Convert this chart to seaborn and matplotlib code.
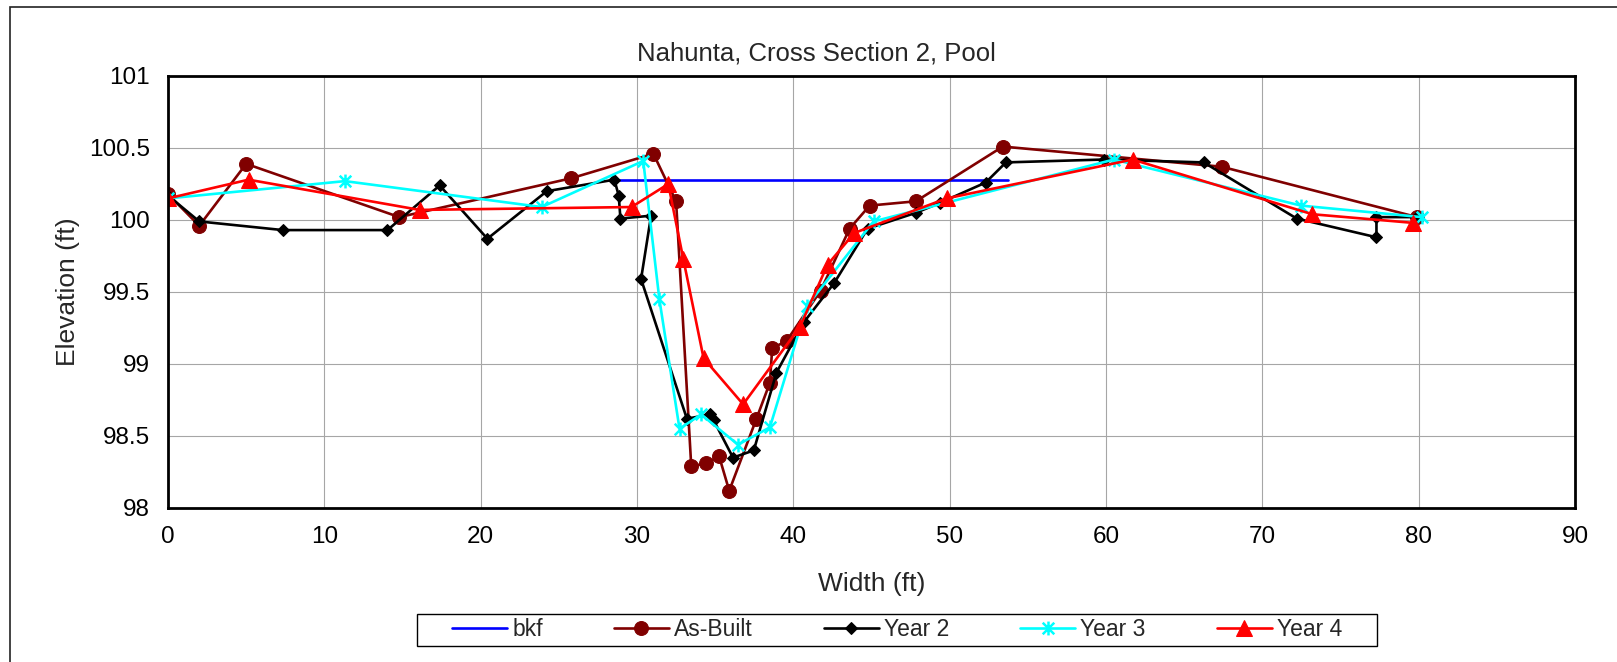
"""
Nahunta cross section 2 (pool) - elevation profile for each survey year.
"""

import matplotlib
matplotlib.use("Agg")
import matplotlib.pyplot as plt
from matplotlib.path import Path
from matplotlib.patches import Rectangle
from matplotlib.ticker import FormatStrFormatter
import seaborn as sns

# ---- data ----
bkf_x = [28.55, 53.7]
bkf_y = [100.275, 100.275]

asbuilt_x = [0.0, 2.0, 5.0, 14.8, 25.8, 31.05, 32.5, 33.47, 34.43, 35.25, 35.9,
             37.64, 38.5, 38.65, 39.57, 41.75, 43.6, 44.88, 47.84, 53.4, 67.4, 79.9]
asbuilt_y = [100.18, 99.96, 100.39, 100.02, 100.29, 100.46, 100.13, 98.29, 98.31,
             98.36, 98.12, 98.62, 98.87, 99.11, 99.16, 99.51, 99.94, 100.10, 100.13,
             100.51, 100.37, 100.02]

year2_x = [0.0, 2.0, 7.34, 14.04, 17.38, 20.43, 24.23, 28.55, 28.83, 28.94, 30.9,
           30.26, 33.19, 34.7, 34.9, 36.14, 37.47, 38.92, 40.67, 42.6, 44.75, 47.84,
           49.4, 52.3, 53.6, 59.86, 66.25, 72.2, 77.3, 77.3, 79.9]
year2_y = [100.17, 99.99, 99.93, 99.93, 100.24, 99.87, 100.20, 100.28, 100.17,
           100.01, 100.03, 99.59, 98.62, 98.65, 98.61, 98.35, 98.40, 98.94, 99.29,
           99.56, 99.94, 100.05, 100.12, 100.26, 100.40, 100.42, 100.40, 100.01,
           99.88, 100.02, 100.02]

year3_x = [0.0, 11.32, 23.9, 30.4, 31.43, 32.72, 34.1, 36.46, 38.5, 40.85, 45.13,
           60.5, 72.47, 80.2]
year3_y = [100.15, 100.27, 100.09, 100.41, 99.45, 98.55, 98.65, 98.44, 98.56, 99.40,
           99.99, 100.42, 100.10, 100.02]

year4_x = [0.0, 5.15, 16.1, 29.65, 32.0, 32.96, 34.26, 36.79, 40.43, 42.19, 43.9,
           49.8, 61.7, 73.2, 79.65]
year4_y = [100.15, 100.28, 100.07, 100.09, 100.25, 99.73, 99.04, 98.72, 99.26, 99.69,
           99.91, 100.15, 100.42, 100.04, 99.98]

x_ticks = [0, 10, 20, 30, 40, 50, 60, 70, 80, 90]
y_ticks = [98, 98.5, 99, 99.5, 100, 100.5, 101]

W, H = 1617, 662


def asterisk_marker() -> Path:
    """Excel-style asterisk: an X with a vertical bar."""
    verts = [(-1, -1), (1, 1), (-1, 1), (1, -1), (0, -1.2), (0, 1.2)]
    codes = [Path.MOVETO, Path.LINETO] * 3
    return Path(verts, codes)


def main() -> None:
    sns.set_style("white")
    plt.rcParams["font.family"] = ["Liberation Sans", "DejaVu Sans"]

    fig = plt.figure(figsize=(W / 100, H / 100), dpi=100)
    ax = fig.add_axes([168 / W, 1 - 508 / H, (1575 - 168) / W, (508 - 76) / H])

    series = [
        ("bkf", bkf_x, bkf_y, dict(color="#0000FF")),
        ("As-Built", asbuilt_x, asbuilt_y,
         dict(color="#800000", marker="o", markersize=10,
              markeredgecolor="#800000", markerfacecolor="#800000")),
        ("Year 2", year2_x, year2_y,
         dict(color="black", marker="D", markersize=6.5,
              markeredgecolor="black", markerfacecolor="black")),
        ("Year 3", year3_x, year3_y,
         dict(color="#00FFFF", marker=asterisk_marker(), markersize=10,
              markeredgecolor="#00FFFF", markeredgewidth=1.8)),
        ("Year 4", year4_x, year4_y,
         dict(color="#FF0000", marker="^", markersize=11.5,
              markeredgecolor="#FF0000", markerfacecolor="#FF0000")),
    ]
    for name, xs, ys, style in series:
        sns.lineplot(x=xs, y=ys, ax=ax, sort=False, estimator=None,
                     linewidth=1.9, label=name, **style)

    ax.set_xlim(0, 90)
    ax.set_ylim(98, 101)
    ax.set_xticks(x_ticks)
    ax.set_yticks(y_ticks)
    ax.yaxis.set_major_formatter(FormatStrFormatter("%g"))
    ax.grid(True, color="#a6a6a6", linewidth=0.8)
    ax.set_axisbelow(True)
    for sp in ax.spines.values():
        sp.set_color("black")
        sp.set_linewidth(2)
    ax.tick_params(direction="out", length=5, width=0.8, color="#808080",
                   labelsize=17.5, pad=8, labelcolor="black")

    ax.set_xlabel("Width (ft)", fontsize=19)
    ax.set_ylabel("Elevation (ft)", fontsize=19)
    ax.xaxis.set_label_coords(0.5, (508 - 572) / 432)
    ax.yaxis.set_label_coords((80 - 168) / 1407, 0.5)

    fig.text(816 / W, 1 - 54 / H, "Nahunta, Cross Section 2, Pool",
             ha="center", va="center", fontsize=18.5)

    # legend, with an Excel-like square box
    handles, labels = ax.get_legend_handles_labels()
    ax.get_legend().remove()
    fig.legend(handles, labels, loc="center", ncol=5, frameon=False,
               bbox_to_anchor=(897 / W, 1 - 630 / H),
               bbox_transform=fig.transFigure, fontsize=16.5,
               handlelength=2.4, handletextpad=0.22, columnspacing=3.1)
    fig.add_artist(Rectangle((417 / W, 1 - 646 / H), (1377 - 417) / W, 32 / H,
                             transform=fig.transFigure, fill=False,
                             edgecolor="black", linewidth=1))

    # outer chart border
    fig.add_artist(Rectangle((10 / W, -0.05), 1.1, 1 - 7 / H + 0.05,
                             transform=fig.transFigure, fill=False,
                             edgecolor="#222222", linewidth=1.2))

    fig.savefig("out.png", dpi=100)
    plt.close(fig)


if __name__ == "__main__":
    main()
